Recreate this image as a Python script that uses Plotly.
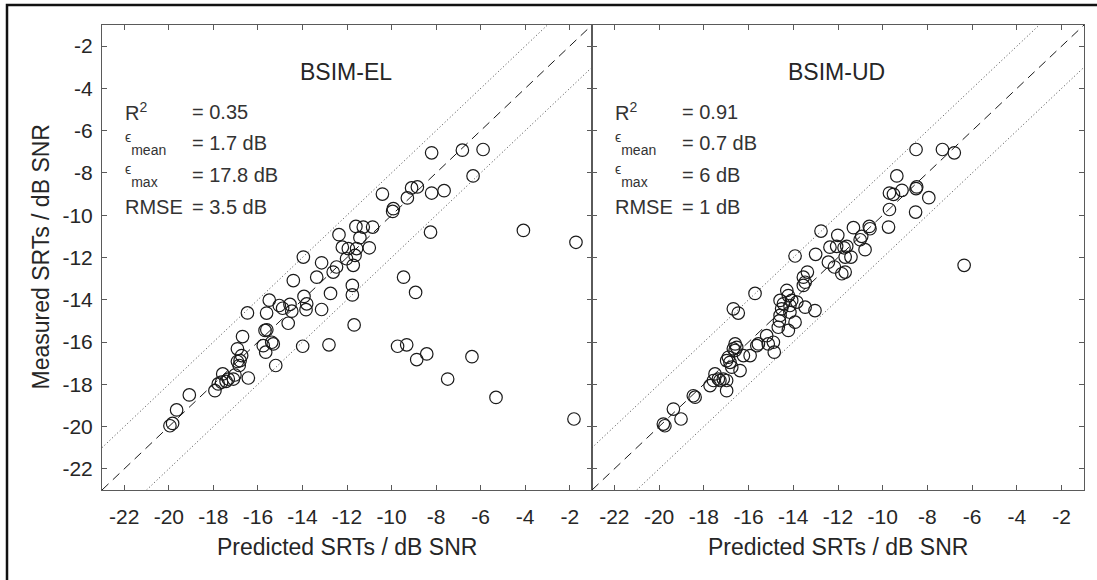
import plotly.graph_objects as go

tick_vals = [-22, -20, -18, -16, -14, -12, -10, -8, -6, -4, -2]
tick_text = [str(v) for v in tick_vals]
axis_range = [-23, -1]

panel_titles = ["BSIM-EL", "BSIM-UD"]
stat_labels = ["R<sup>2</sup>",
               "<sup>ϵ</sup><sub>mean</sub>",
               "<sup>ϵ</sup><sub>max</sub>",
               "RMSE"]
stat_values_el = ["= 0.35", "= 1.7 dB", "= 17.8 dB", "= 3.5 dB"]
stat_values_ud = ["= 0.91", "= 0.7 dB", "= 6 dB", "= 1 dB"]

el_pred = [-19.95, -19.83, -19.65, -19.08, -17.93, -17.78, -17.63, -17.43, -17.33, -17.10,
           -17.03, -17.58, -16.43, -16.84, -16.92, -16.80, -16.73, -16.92, -16.69, -16.47,
           -15.61, -15.49, -15.68, -15.60, -15.76, -15.38, -15.65, -15.20, -15.04, -14.89,
           -14.56, -14.48, -14.64, -13.93, -13.81, -13.84, -13.14, -13.99, -12.81, -14.41,
           -12.74, -11.76, -11.76, -11.68, -13.96, -13.36, -12.62, -12.47, -13.14, -11.72,
           -12.02, -11.64, -11.57, -11.94, -12.21, -11.00, -11.42, -12.36, -11.60, -11.27,
           -10.85, -10.41, -9.92, -9.95, -9.29, -9.10, -8.84, -8.20, -7.64, -8.20,
           -6.82, -5.89, -6.34, -8.25, -4.08, -1.72, -9.46, -8.92, -9.73, -9.32,
           -8.87, -8.42, -6.39, -7.48, -5.31, -1.81, -15.31]
el_meas = [-19.96, -19.85, -19.21, -18.50, -18.30, -17.98, -17.90, -17.86, -17.75, -17.75,
           -17.56, -17.51, -17.70, -17.11, -16.92, -16.88, -16.64, -16.32, -15.74, -14.62,
           -14.63, -14.02, -15.45, -15.42, -16.17, -16.01, -16.48, -17.11, -14.27, -14.40,
           -14.22, -14.54, -15.11, -13.84, -14.19, -14.47, -14.46, -16.20, -16.13, -13.09,
           -13.70, -13.32, -13.77, -15.19, -11.98, -12.93, -12.69, -12.45, -12.25, -12.37,
           -12.06, -11.90, -11.58, -11.58, -11.51, -11.54, -11.06, -10.92, -10.53, -10.56,
           -10.56, -9.00, -9.69, -9.82, -9.18, -8.71, -8.66, -8.95, -8.84, -7.05,
           -6.92, -6.89, -8.14, -10.80, -10.72, -11.28, -12.93, -13.65, -16.20, -16.13,
           -16.83, -16.56, -16.69, -17.75, -18.62, -19.64, -16.09]

ud_pred = [-19.81, -19.74, -19.02, -19.36, -18.47, -18.39, -17.72, -17.57, -17.50, -17.35,
           -17.28, -17.13, -16.98, -16.98, -16.90, -16.98, -16.83, -16.75, -16.38, -16.60,
           -16.53, -16.68, -16.60, -16.23, -15.93, -15.63, -15.56, -14.89, -14.85, -15.19,
           -14.67, -14.62, -14.22, -13.92, -14.15, -14.59, -14.52, -14.44, -14.59, -14.15,
           -14.07, -14.29, -14.22, -13.84, -13.47, -13.03, -15.71, -16.68, -16.46, -13.92,
           -13.00, -12.76, -12.43, -12.16, -11.83, -11.68, -13.37, -13.55, -13.47, -13.55,
           -12.36, -12.06, -11.73, -11.61, -11.68, -11.42, -12.01, -11.31, -10.94, -11.01,
           -10.79, -10.60, -10.57, -9.74, -9.70, -8.53, -7.94, -9.70, -9.52, -9.14,
           -8.48, -8.51, -9.37, -8.51, -7.33, -6.80, -6.36, -15.12]
ud_meas = [-19.88, -19.96, -19.64, -19.17, -18.54, -18.61, -18.06, -17.82, -17.51, -17.75,
           -17.82, -17.75, -17.82, -18.30, -16.72, -16.88, -16.96, -17.19, -17.35, -16.09,
           -16.25, -16.32, -16.40, -16.64, -16.64, -16.17, -16.09, -16.01, -16.48, -15.70,
           -15.30, -15.00, -15.45, -15.06, -14.59, -14.74, -14.43, -14.19, -14.03, -14.27,
           -14.03, -13.56, -13.80, -14.11, -14.35, -14.51, -13.70, -14.43, -14.63, -11.93,
           -11.85, -10.75, -12.22, -12.45, -12.77, -12.69, -12.69, -12.93, -13.17, -13.32,
           -11.51, -11.47, -11.54, -11.47, -11.98, -11.98, -10.95, -10.59, -11.00, -11.16,
           -11.63, -10.53, -10.64, -10.56, -9.73, -9.85, -9.17, -8.95, -9.01, -8.82,
           -8.66, -8.74, -8.14, -6.89, -6.89, -7.05, -12.37, -16.09]

W, H = 1097, 580
left_px, mid_px, right_px = 102, 592, 1084
top_px, bot_px = 25, 490
font_family = "Liberation Sans, Arial, Helvetica, sans-serif"
text_col = "#262626"
axis_col = "#5a5a5a"

fig = go.Figure()

marker = dict(symbol="circle-open", size=12.5, color="#1a1a1a", line=dict(width=1.2, color="#1a1a1a"))
for i, (xp, ym) in enumerate([(el_pred, el_meas), (ud_pred, ud_meas)]):
    xa = "x" if i == 0 else "x2"
    ya = "y" if i == 0 else "y2"
    lo, hi = axis_range
    fig.add_trace(go.Scatter(x=[lo, hi], y=[lo, hi], mode="lines", xaxis=xa, yaxis=ya,
                             line=dict(color="#1a1a1a", width=1, dash="9px,6px"), hoverinfo="skip"))
    fig.add_trace(go.Scatter(x=[lo, hi - 2], y=[lo + 2, hi], mode="lines", xaxis=xa, yaxis=ya,
                             line=dict(color="#444444", width=1, dash="1px,2.5px"), hoverinfo="skip"))
    fig.add_trace(go.Scatter(x=[lo + 2, hi], y=[lo, hi - 2], mode="lines", xaxis=xa, yaxis=ya,
                             line=dict(color="#444444", width=1, dash="1px,2.5px"), hoverinfo="skip"))
    fig.add_trace(go.Scatter(x=xp, y=ym, mode="markers", xaxis=xa, yaxis=ya, marker=marker,
                             hoverinfo="x+y"))

common_axis = dict(range=axis_range, tickvals=tick_vals, ticktext=tick_text, ticks="inside",
                   ticklen=5, tickwidth=1, tickcolor=axis_col, showline=True, linecolor=axis_col,
                   linewidth=1, mirror="ticks", showgrid=False, zeroline=False, automargin=False,
                   tickfont=dict(family=font_family, size=21, color=text_col))

fig.update_layout(
    width=W, height=H, margin=dict(l=0, r=0, t=0, b=0, autoexpand=False),
    paper_bgcolor="white", plot_bgcolor="white", showlegend=False,
    xaxis=dict(common_axis, domain=[left_px / W, mid_px / W], anchor="y", ticklabelstandoff=8),
    yaxis=dict(common_axis, domain=[1 - bot_px / H, 1 - top_px / H], anchor="x", ticklabelstandoff=4),
    xaxis2=dict(common_axis, domain=[mid_px / W, right_px / W], anchor="y2", ticklabelstandoff=8),
    yaxis2=dict(common_axis, domain=[1 - bot_px / H, 1 - top_px / H], anchor="x2", showticklabels=False),
)

ann = []
title_font = dict(family=font_family, size=23, color=text_col)
stat_font = dict(family=font_family, size=20, color="#333333")
row_y = [-5.1, -6.6, -8.1, -9.6]
for i, (name, vals) in enumerate(zip(panel_titles, [stat_values_el, stat_values_ud])):
    xr = "x" if i == 0 else "x2"
    yr = "y" if i == 0 else "y2"
    ann.append(dict(x=-12.05, y=-3.2, xref=xr, yref=yr, text=name, showarrow=False,
                    xanchor="center", yanchor="middle", font=title_font))
    for lab, val, yy in zip(stat_labels, vals, row_y):
        ann.append(dict(x=-22.05, y=yy, xref=xr, yref=yr, text=lab, showarrow=False,
                        xanchor="left", yanchor="middle", font=stat_font))
        ann.append(dict(x=-19.05, y=yy, xref=xr, yref=yr, text=val, showarrow=False,
                        xanchor="left", yanchor="middle", font=stat_font))

ann.append(dict(x=(left_px + mid_px) / 2 / W, y=1 - 547 / H, xref="paper", yref="paper",
                text="Predicted SRTs / dB SNR", showarrow=False, xanchor="center", yanchor="middle",
                font=title_font))
ann.append(dict(x=(mid_px + right_px) / 2 / W, y=1 - 547 / H, xref="paper", yref="paper",
                text="Predicted SRTs / dB SNR", showarrow=False, xanchor="center", yanchor="middle",
                font=title_font))
ann.append(dict(x=40 / W, y=1 - (top_px + bot_px) / 2 / H, xref="paper", yref="paper",
                text="Measured SRTs / dB SNR", showarrow=False, xanchor="center", yanchor="middle",
                textangle=-90, font=title_font))
fig.update_layout(annotations=ann)

fig.add_shape(type="rect", xref="paper", yref="paper", x0=7 / W, x1=1.2, y0=-0.2, y1=1 - 5 / H,
              line=dict(color="#111111", width=2.5), fillcolor="rgba(0,0,0,0)", layer="above")

fig.write_html("out.html", config={"displayModeBar": False},
               post_script="document.body.style.margin='0';document.body.style.overflow='hidden';")
